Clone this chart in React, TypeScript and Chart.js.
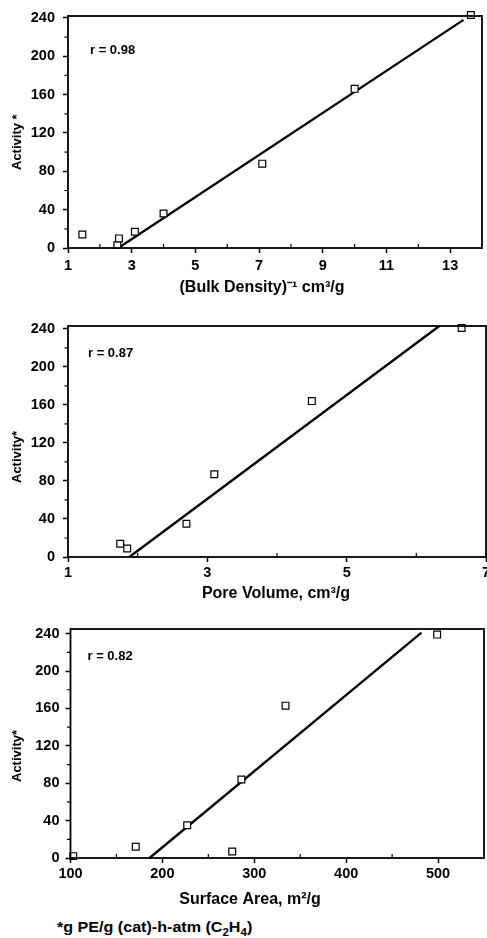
import React, { useEffect, useRef } from "react";
import { Chart, registerables } from "chart.js";

Chart.register(...registerables);

// ---------------- data ----------------
const activityTicks = [0, 40, 80, 120, 160, 200, 240];
const activityMinor = [20, 60, 100, 140, 180, 220];

// Panel 1: (Bulk Density)^-1
const bulkX = [1.45, 2.55, 2.6, 3.1, 4.0, 7.1, 10.0, 13.65];
const bulkY = [14, 3, 10, 17, 36, 88, 166, 243];
const bulkFitX = [2.58, 13.42];
const bulkFitY = [0, 238];
const bulkTicks = [1, 3, 5, 7, 9, 11, 13];
const bulkMinor = [2, 4, 6, 8, 10, 12];

// Panel 2: Pore volume
const poreX = [1.75, 1.85, 2.7, 3.1, 4.5, 6.65];
const poreY = [14, 9, 35, 87, 164, 241];
const poreFitX = [1.88, 6.33];
const poreFitY = [0, 243];
const poreTicks = [1, 3, 5, 7];
const poreMinor = [2, 4, 6];

// Panel 3: Surface area
const surfX = [103, 171, 227, 276, 286, 334, 499];
const surfY = [2, 12, 35, 7, 84, 163, 239];
const surfFitX = [186, 482];
const surfFitY = [0, 241];
const surfTicks = [100, 200, 300, 400, 500];
const surfMinor = [150, 250, 350, 450];

// ---------------- layout ----------------
const W = 487;
const FONT = "'Liberation Sans', Arial, Helvetica, sans-serif";

type Spec = {
  top: number;
  height: number;
  area: { left: number; right: number; top: number; bottom: number };
  xs: number[];
  ys: number[];
  fitX: number[];
  fitY: number[];
  xMin: number;
  xMax: number;
  yMax: number;
  xTicks: number[];
  xMinor: number[];
  xTitle: string;
  xTitleCenter: number;
  yTitle: string;
  rText: string;
  rPos: { dx: number; dy: number };
  xTickPad: number;
  xTitleOffset: number;
  yTickPad: number;
  yTitleDrop: number;
};

const panels: Spec[] = [
  {
    top: 0,
    height: 300,
    area: { left: 68, right: 482, top: 16, bottom: 248 },
    xs: bulkX, ys: bulkY, fitX: bulkFitX, fitY: bulkFitY,
    xMin: 1, xMax: 14, yMax: 242,
    xTicks: bulkTicks, xMinor: bulkMinor,
    xTitle: "(Bulk Density)\u207B\u00B9 cm\u00B3/g",
    xTitleCenter: 262,
    yTitle: "Activity *",
    rText: "r = 0.98",
    rPos: { dx: 22, dy: 34 },
    xTickPad: 4.5, xTitleOffset: 40, yTickPad: 8, yTitleDrop: 78,
  },
  {
    top: 300,
    height: 310,
    area: { left: 68, right: 486, top: 26, bottom: 257 },
    xs: poreX, ys: poreY, fitX: poreFitX, fitY: poreFitY,
    xMin: 1, xMax: 7, yMax: 243,
    xTicks: poreTicks, xMinor: poreMinor,
    xTitle: "Pore Volume, cm\u00B3/g",
    xTitleCenter: 276,
    yTitle: "Activity*",
    rText: "r = 0.87",
    rPos: { dx: 20, dy: 27 },
    xTickPad: 2, xTitleOffset: 36.5, yTickPad: 8, yTitleDrop: 74,
  },
  {
    top: 610,
    height: 300,
    area: { left: 70.5, right: 484, top: 19, bottom: 248 },
    xs: surfX, ys: surfY, fitX: surfFitX, fitY: surfFitY,
    xMin: 100, xMax: 550, yMax: 245,
    xTicks: surfTicks, xMinor: surfMinor,
    xTitle: "Surface Area, m\u00B2/g",
    xTitleCenter: 250,
    yTitle: "Activity*",
    rText: "r = 0.82",
    rPos: { dx: 17, dy: 27 },
    xTickPad: 2.5, xTitleOffset: 42, yTickPad: 6, yTitleDrop: 76,
  },
];

// frame, minor ticks, r annotation, axis titles
const framePlugin = {
  id: "frame",
  afterDraw(chart: any, _args: any, opts: any) {
    const { ctx, chartArea: a, scales } = chart;
    ctx.save();
    ctx.strokeStyle = "#000";
    ctx.lineWidth = 1.8;
    ctx.strokeRect(a.left, a.top, a.right - a.left, a.bottom - a.top);

    ctx.lineWidth = 1.2;
    ctx.beginPath();
    for (const v of opts.minorX as number[]) {
      const px = scales.x.getPixelForValue(v);
      ctx.moveTo(px, a.bottom);
      ctx.lineTo(px, a.bottom - 4);
    }
    for (const v of opts.minorY as number[]) {
      const py = scales.y.getPixelForValue(v);
      ctx.moveTo(a.left, py);
      ctx.lineTo(a.left - 3.5, py);
    }
    ctx.stroke();

    ctx.fillStyle = "#000";
    ctx.font = `bold 13px ${FONT}`;
    ctx.textAlign = "left";
    ctx.textBaseline = "middle";
    ctx.fillText(opts.rText, a.left + opts.rPos.dx, a.top + opts.rPos.dy);

    ctx.font = `bold 16px ${FONT}`;
    ctx.textAlign = "center";
    ctx.fillText(opts.xTitle, opts.xTitleCenter, a.bottom + opts.xTitleOffset);

    ctx.font = `bold 13px ${FONT}`;
    ctx.translate(17, a.bottom - opts.yTitleDrop);
    ctx.rotate(-Math.PI / 2);
    ctx.textAlign = "left";
    ctx.fillText(opts.yTitle, 0, 0);
    ctx.restore();
  },
};

function Panel({ spec }: { spec: Spec }) {
  const ref = useRef<HTMLCanvasElement>(null);
  useEffect(() => {
    const s = spec;
    const xScaleH = s.height - s.area.bottom;
    const chart = new Chart(ref.current as HTMLCanvasElement, {
      type: "scatter",
      data: {
        datasets: [
          {
            type: "scatter",
            data: s.xs.map((x, i) => ({ x, y: s.ys[i] })),
            pointStyle: "rect",
            pointRadius: 4.8,
            borderColor: "#000",
            backgroundColor: "#fff",
            borderWidth: 1.2,
            clip: false,
            order: 0,
          } as any,
          {
            type: "line",
            data: s.fitX.map((x, i) => ({ x, y: s.fitY[i] })),
            borderColor: "#000",
            borderWidth: 2.3,
            pointRadius: 0,
            fill: false,
            tension: 0,
            clip: false,
            order: 1,
          } as any,
        ],
      },
      options: {
        animation: false,
        responsive: false,
        devicePixelRatio: 1,
        events: [],
        layout: {
          autoPadding: false,
          padding: { left: 0, top: s.area.top, right: W - s.area.right, bottom: 0 },
        },
        plugins: {
          legend: { display: false },
          tooltip: { enabled: false },
          frame: {
            minorX: s.xMinor,
            minorY: activityMinor,
            rText: s.rText,
            rPos: s.rPos,
            xTitle: s.xTitle,
            xTitleCenter: s.xTitleCenter,
            xTitleOffset: s.xTitleOffset,
            yTitle: s.yTitle,
            yTitleDrop: s.yTitleDrop,
          },
        } as any,
        scales: {
          x: {
            type: "linear",
            position: "bottom",
            min: s.xMin,
            max: s.xMax,
            afterBuildTicks: (sc: any) => {
              sc.ticks = s.xTicks.map((v) => ({ value: v }));
            },
            afterFit: (sc: any) => {
              sc.height = xScaleH;
              sc.paddingLeft = 0;
              sc.paddingRight = 0;
            },
            ticks: {
              font: { family: FONT, size: 14.5, weight: "bold" },
              color: "#000",
              padding: s.xTickPad,
              maxRotation: 0,
              autoSkip: false,
            },
            grid: {
              drawOnChartArea: false,
              drawTicks: true,
              tickLength: 5,
              tickColor: "#000",
              tickWidth: 1.5,
            },
            border: { display: false },
            title: { display: false },
          },
          y: {
            type: "linear",
            position: "left",
            min: 0,
            max: s.yMax,
            afterBuildTicks: (sc: any) => {
              sc.ticks = activityTicks.map((v) => ({ value: v }));
            },
            afterFit: (sc: any) => {
              sc.width = s.area.left;
              sc.paddingTop = 0;
              sc.paddingBottom = 0;
            },
            ticks: {
              font: { family: FONT, size: 14.5, weight: "bold" },
              color: "#000",
              padding: s.yTickPad,
              autoSkip: false,
            },
            grid: {
              drawOnChartArea: false,
              drawTicks: true,
              tickLength: 5,
              tickColor: "#000",
              tickWidth: 1.5,
            },
            border: { display: false },
            title: { display: false },
          },
        },
      } as any,
      plugins: [framePlugin as any],
    });
    return () => chart.destroy();
  }, [spec]);
  return (
    <div style={{ position: "absolute", left: 0, top: spec.top, width: W, height: spec.height }}>
      <canvas ref={ref} width={W} height={spec.height} style={{ display: "block" }} />
    </div>
  );
}

export default function App() {
  return (
    <div
      style={{
        position: "absolute",
        left: 0,
        top: 0,
        width: W,
        height: 938,
        background: "#fff",
        overflow: "hidden",
      }}
    >
      {panels.map((p, i) => (
        <Panel key={i} spec={p} />
      ))}
      <div
        style={{
          position: "absolute",
          left: 57,
          top: 919,
          fontFamily: FONT,
          fontWeight: "bold",
          fontSize: 14,
          lineHeight: "16px",
          color: "#000",
          whiteSpace: "nowrap",
          transform: "scaleX(1.15)",
          transformOrigin: "left center",
        }}
      >
        *g PE/g (cat)-h-atm (C<sub style={{ fontSize: 10, lineHeight: 0 }}>2</sub>H
        <sub style={{ fontSize: 10, lineHeight: 0 }}>4</sub>)
      </div>
    </div>
  );
}
